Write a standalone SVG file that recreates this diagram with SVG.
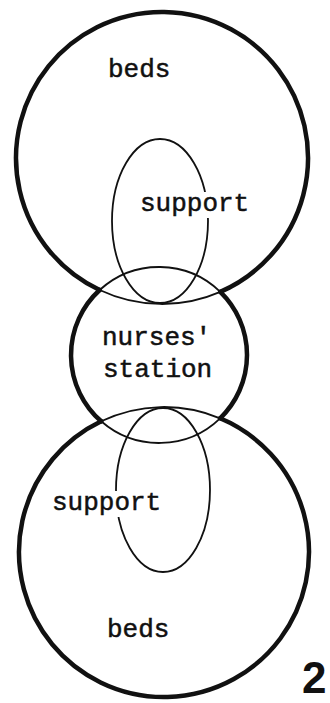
<svg xmlns="http://www.w3.org/2000/svg" width="330" height="703" viewBox="0 0 330 703">
<style>
.thick{fill:none;stroke:#111;stroke-width:4.5;stroke-linecap:round}
.thin{fill:none;stroke:#111;stroke-width:1.8}
.lbl{font-family:"Liberation Mono","DejaVu Sans Mono",monospace;font-size:26px;fill:#111;stroke:#111;stroke-width:0.5}
.bg{fill:#fff}
.num{font-family:"Liberation Sans",Arial,sans-serif;font-weight:bold;font-size:44px;fill:#111}
</style>
<rect width="330" height="703" fill="#fff"/>
<g id="top-beds">
<path class="thick" d="M99.66 290 A146 146 0 1 1 220.3 291.85"/>
<path class="thin" d="M99.66 290 A146 146 0 0 0 220.3 291.85"/>
<text class="lbl" x="108" y="77">beds</text>
</g>
<g id="nurses-station">
<path class="thick" d="M99.66 290 A88 88 0 0 0 101.17 421.3"/>
<path class="thick" d="M220.3 291.85 A88 88 0 0 1 220.13 418.3"/>
<path class="thin" d="M99.66 290 A88 88 0 0 1 220.3 291.85"/>
<path class="thin" d="M101.17 421.3 A88 88 0 0 0 220.13 418.3"/>
<text class="lbl" x="102" y="345">nurses'</text>
<text class="lbl" x="103" y="377">station</text>
</g>
<g id="bottom-beds">
<path class="thick" d="M101.17 421.3 A145 145 0 1 0 220.13 418.3"/>
<path class="thin" d="M101.17 421.3 A145 145 0 0 1 220.13 418.3"/>
<text class="lbl" x="107" y="637">beds</text>
</g>
<g id="top-support">
<ellipse class="thin" cx="160" cy="221" rx="48" ry="82"/>
<rect class="bg" x="137" y="192" width="116" height="26"/>
<text class="lbl" x="140" y="211">support</text>
</g>
<g id="bottom-support">
<ellipse class="thin" cx="163" cy="490" rx="47" ry="82"/>
<rect class="bg" x="49" y="491" width="117" height="26"/>
<text class="lbl" x="52" y="510">support</text>
</g>
<g id="connectors"></g>
<text class="num" x="302" y="693">2</text>
</svg>
